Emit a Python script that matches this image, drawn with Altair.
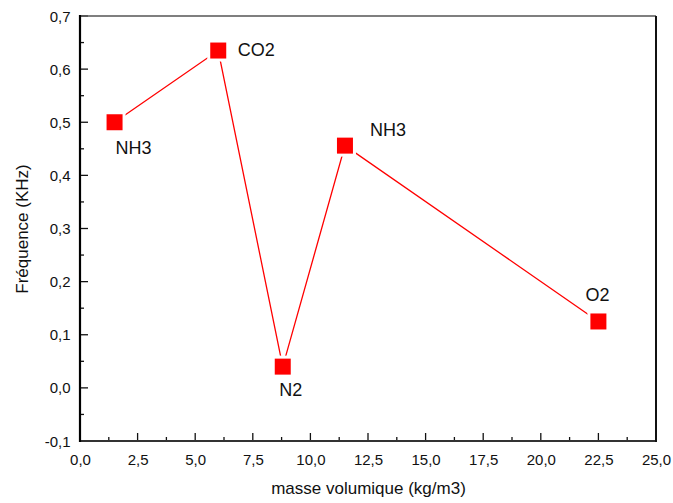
import altair as alt
import pandas as pd

# ---- data ----
gas = ["NH3", "CO2", "N2", "NH3", "O2"]
masse = [1.5, 6.0, 8.8, 11.5, 22.5]
freq = [0.50, 0.635, 0.04, 0.456, 0.125]

x_major = [0, 2.5, 5, 7.5, 10, 12.5, 15, 17.5, 20, 22.5, 25]
x_minor = [1.25, 3.75, 6.25, 8.75, 11.25, 13.75, 16.25, 18.75, 21.25, 23.75]
y_major = [-0.1, 0.0, 0.1, 0.2, 0.3, 0.4, 0.5, 0.6, 0.7]
y_minor = [-0.05, 0.05, 0.15, 0.25, 0.35, 0.45, 0.55, 0.65]

W, H = 576, 425
FONT = "Liberation Sans"
TXT = "#111111"

df = pd.DataFrame({"gas": gas, "masse": masse, "freq": freq, "idx": list(range(len(gas)))})

xs = alt.Scale(domain=[0, 25], nice=False, zero=False)
ys = alt.Scale(domain=[-0.1, 0.7], nice=False, zero=False)
lab = "replace(replace(format(datum.value, '.1f'), '.', ','), '\u2212', '-')"

xaxis = alt.Axis(values=x_major, labelExpr=lab, ticks=False, domain=False, grid=False,
                 labelFont=FONT, labelFontSize=15, labelPadding=11, labelColor=TXT,
                 labelFlush=False, labelOverlap=False,
                 title="masse volumique (kg/m3)", titleFont=FONT, titleFontSize=17,
                 titleFontWeight="normal", titlePadding=13, titleColor=TXT)
yaxis = alt.Axis(values=y_major, labelExpr=lab, ticks=False, domain=False, grid=False,
                 labelFont=FONT, labelFontSize=15, labelPadding=10, labelColor=TXT,
                 labelFlush=False, labelOverlap=False,
                 title="Fréquence (KHz)", titleFont=FONT, titleFontSize=17,
                 titleFontWeight="normal", titlePadding=13, titleColor=TXT)


def X(field):
    return alt.X(field, scale=xs, axis=xaxis)


def Y(field):
    return alt.Y(field, scale=ys, axis=yaxis)


line = alt.Chart(df).mark_line(color="#ff0000", strokeWidth=1.3).encode(
    x=X("masse:Q"), y=Y("freq:Q"), order="idx:Q")
halo = alt.Chart(df).mark_square(size=484, color="white", opacity=1, filled=True).encode(
    x=X("masse:Q"), y=Y("freq:Q"))
pts = alt.Chart(df).mark_square(size=256, color="#ff0000", opacity=1, filled=True).encode(
    x=X("masse:Q"), y=Y("freq:Q"))

offsets = [(19, 27), (38, 0), (8, 24), (43, -15), (-1, -25)]
texts = []
for i, (dx, dy) in enumerate(offsets):
    texts.append(
        alt.Chart(df).transform_filter(alt.datum.idx == i)
        .mark_text(font=FONT, fontSize=18, color=TXT, align="center", baseline="middle", dx=dx, dy=dy)
        .encode(x=X("masse:Q"), y=Y("freq:Q"), text="gas:N")
    )

# inward ticks
xmaj = alt.Chart(pd.DataFrame({"v": x_major})).mark_rule(color="#111", strokeWidth=1.3).encode(
    x=X("v:Q"), y=alt.value(H), y2=alt.value(H - 8))
xmin = alt.Chart(pd.DataFrame({"v": x_minor})).mark_rule(color="#111", strokeWidth=1.3).encode(
    x=X("v:Q"), y=alt.value(H), y2=alt.value(H - 4))
ymaj = alt.Chart(pd.DataFrame({"v": y_major})).mark_rule(color="#111", strokeWidth=1.3).encode(
    y=Y("v:Q"), x=alt.value(0), x2=alt.value(8))
ymin = alt.Chart(pd.DataFrame({"v": y_minor})).mark_rule(color="#111", strokeWidth=1.3).encode(
    y=Y("v:Q"), x=alt.value(0), x2=alt.value(4))

one = pd.DataFrame({"a": [0]})
left = alt.Chart(one).mark_rule(color="#000", strokeWidth=2.2).encode(
    x=alt.value(0), y=alt.value(-1), y2=alt.value(H + 1))
right = alt.Chart(one).mark_rule(color="#111", strokeWidth=2).encode(
    x=alt.value(W), y=alt.value(0), y2=alt.value(H + 1))
top = alt.Chart(one).mark_rule(color="#555", strokeWidth=1.5).encode(
    y=alt.value(0), x=alt.value(0), x2=alt.value(W))
bottom = alt.Chart(one).mark_rule(color="#333", strokeWidth=2).encode(
    y=alt.value(H), x=alt.value(0), x2=alt.value(W))

chart = alt.layer(
    line, halo, pts, *texts, xmaj, xmin, ymaj, ymin, top, bottom, left, right
).properties(
    width=W, height=H,
    padding={"left": 80, "top": 16, "right": 17, "bottom": 62},
    autosize=alt.AutoSizeParams(type="none"),
    background="white",
).configure_view(stroke=None)

chart.save("out.html", embed_options={"renderer": "svg", "actions": False})
